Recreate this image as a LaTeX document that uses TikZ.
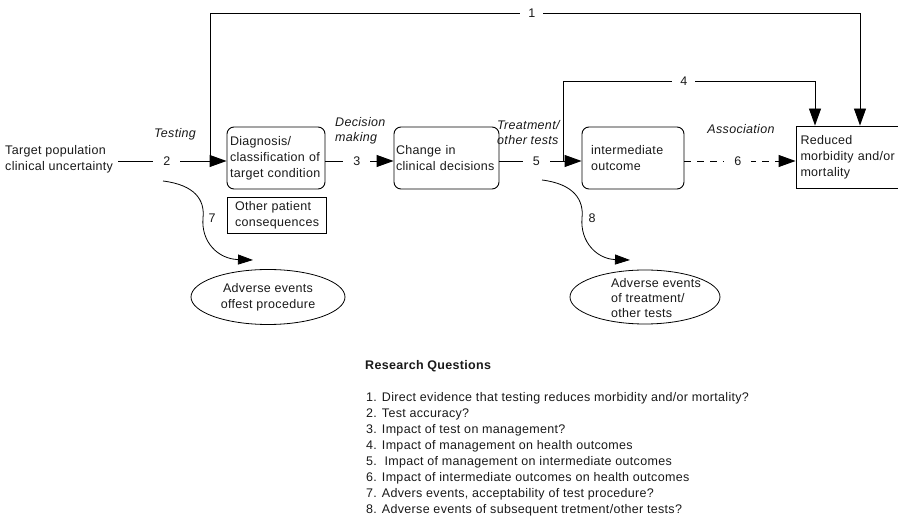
\documentclass[tikz,border=0pt]{standalone}
\usepackage{fontspec}
\setmainfont{Liberation Sans}[LetterSpace=2.5]
\usetikzlibrary{arrows.meta,shapes.geometric,calc}

\begin{document}
\begin{tikzpicture}[x=1pt,y=-1pt,
  every node/.style={font=\fontsize{12.5}{16}\selectfont, text=black!90, inner sep=0pt,
    execute at begin node={\hyphenpenalty=10000\relax}},
  box/.style={draw, line width=0.9pt, align=left, minimum height=62pt},
  rbox/.style={box, rounded corners=7pt},
  lbl/.style={align=left},
  itl/.style={align=left, font=\fontsize{12.5}{15}\selectfont\itshape},
  gap/.style={fill=white, inner xsep=10pt, inner ysep=2pt},
  link/.style={line width=0.9pt, -{Triangle[length=17pt,width=12pt]}},
  curvelink/.style={line width=0.8pt, -{Triangle[length=15pt,width=10pt]}},
  oval/.style={draw, ellipse, line width=0.8pt, minimum width=154pt, minimum height=55pt, align=center},
  rq/.style={anchor=base west, font=\fontsize{12.5}{16}\selectfont}]

\useasboundingbox (0,0) rectangle (898,518);

% main row of the chain
\coordinate (row) at (0,161);

\node[lbl, anchor=west] (tp) at (5,159) {Target population\\clinical uncertainty};
\node[rbox, text width=92pt, minimum width=98pt] (diag) at (276,158) {Diagnosis/\\classification of\\target condition};
\node[rbox, text width=101pt, minimum width=105pt] (chg) at (446.5,158) {Change in\\clinical decisions};
\node[rbox, text width=84pt, minimum width=102pt] (imo) at (633,158) {intermediate\\outcome};
\node[box, text width=97pt, minimum width=106pt] (red) at (849,157) {Reduced\\morbidity and/or\\mortality};
\node[box, text width=83pt, minimum width=99pt, minimum height=36pt] (opc) at (276.5,215) {Other patient\\consequences};

% italic step labels
\node[itl] (tst) at (175,134) {Testing};
\node[itl, anchor=west] (dm) at (335,131) {Decision\\making};
\node[itl, anchor=west] (tot) at (497,133) {Treatment/\\other tests};
\node[itl] (asc) at (741,129) {Association};

% links along the row
\draw[link] (tp.east |- row) ++(5,0) -- node[gap, pos=0.45] (n2) {2} (diag.west |- row);
\draw[link] (diag.east |- row) -- node[gap, pos=0.46] (n3) {3} (chg.west |- row);
\draw[link] (chg.east |- row) -- node[gap, pos=0.45] (n5) {5} (imo.west |- row);
\draw[link, dash pattern=on 7pt off 6pt] (imo.east |- row) -- node[gap, pos=0.48] (n6) {6} (red.west |- row);

% path 1: testing straight to outcomes
\coordinate (j1) at (210,161);
\coordinate (t1) at (210,13);
\coordinate (t2) at (860,13);
\draw[link] (j1) -- (t1) -- node[gap, inner xsep=8pt, pos=0.495] (n1) {1} (t2) -- (t2 |- red.north);

% path 4: management to outcomes
\coordinate (j4) at (563,161);
\coordinate (t3) at (563,81);
\coordinate (t4) at (815,81);
\draw[link] (j4) -- (t3) -- node[gap, inner xsep=8pt, pos=0.48] (n4) {4} (t4) -- (t4 |- red.north);

% adverse events
\node[oval] (ae1) at (268,297) {Adverse events\\offest procedure};
\node[oval, minimum width=150pt, minimum height=54pt] (ae2) at (645,297) {};
\node[lbl, font=\fontsize{12.5}{15}\selectfont] (ae2t) at (656,298) {Adverse events\\of treatment/\\other tests};

\coordinate (s7) at (163,181);
\coordinate (e7) at (253,260);
\draw[curvelink] (s7) .. controls (195,185) and (205,200) .. (203,218)
  .. controls (201,242) and (218,259) .. (e7);
\node (n7) at (212,218) {7};

\coordinate (s8) at (542,180);
\coordinate (e8) at (630,260);
\draw[curvelink] (s8) .. controls (574,184) and (584,200) .. (582,218)
  .. controls (580,242) and (597,259) .. (e8);
\node (n8) at (592,218) {8};

% research questions
\node[rq, font=\fontsize{12.5}{16}\selectfont\bfseries] (rqh) at (365,369.5) {Research Questions};
\node[rq] (q1) at (366,401.5) {1. Direct evidence that testing reduces morbidity and/or mortality?};
\node[rq] (q2) at (366,417.5) {2. Test accuracy?};
\node[rq] (q3) at (366,433.5) {3. Impact of test on management?};
\node[rq] (q4) at (366,449.5) {4. Impact of management on health outcomes};
\node[rq] (q5) at (366,465.5) {5.\ \ Impact of management on intermediate outcomes};
\node[rq] (q6) at (366,481.5) {6. Impact of intermediate outcomes on health outcomes};
\node[rq] (q7) at (366,497.5) {7. Advers events, acceptability of test procedure?};
\node[rq] (q8) at (366,513.5) {8. Adverse events of subsequent tretment/other tests?};

\end{tikzpicture}
\end{document}
